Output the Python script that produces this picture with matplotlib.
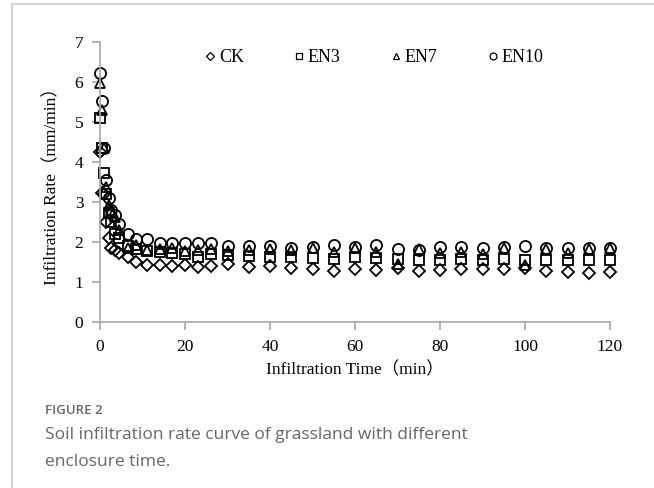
import matplotlib
matplotlib.use('Agg')
import matplotlib.pyplot as plt
from matplotlib.lines import Line2D
import numpy as np

plt.rcParams['font.family'] = ['Liberation Serif', 'Noto Sans CJK SC']

# infiltration time (min)
time = [0, 0.5, 1, 1.5, 2, 2.5, 3.5, 4.5, 6.5, 8.5, 11, 14, 17, 20, 23, 26, 30, 35, 40, 45,
        50, 55, 60, 65, 70, 75, 80, 85, 90, 95, 100, 105, 110, 115, 120]

# infiltration rate (mm/min)
ck = [4.25, 3.22, 3.20, 2.50, 2.09, 1.86, 1.80, 1.72, 1.62, 1.51, 1.43, 1.43, 1.40, 1.43, 1.38,
      1.40, 1.45, 1.37, 1.40, 1.34, 1.33, 1.28, 1.33, 1.31, 1.36, 1.27, 1.31, 1.33, 1.33, 1.33,
      1.35, 1.28, 1.24, 1.23, 1.24]
en3 = [5.10, 4.35, 3.73, 3.20, 2.72, 2.50, 2.20, 2.09, 1.90, 1.82, 1.78, 1.76, 1.73, 1.70, 1.62,
       1.69, 1.68, 1.65, 1.63, 1.62, 1.60, 1.58, 1.62, 1.60, 1.58, 1.56, 1.56, 1.58, 1.55, 1.58,
       1.55, 1.55, 1.55, 1.55, 1.56]
en7 = [5.97, 5.30, 4.35, 3.38, 2.93, 2.80, 2.63, 2.30, 1.84, 1.92, 1.80, 1.82, 1.85, 1.78, 1.80,
       1.83, 1.78, 1.80, 1.82, 1.80, 1.85, 1.75, 1.85, 1.76, 1.45, 1.83, 1.73, 1.74, 1.70, 1.85,
       1.42, 1.83, 1.72, 1.82, 1.84]
en10 = [6.22, 5.52, 4.35, 3.55, 3.10, 2.80, 2.68, 2.45, 2.20, 2.07, 2.07, 1.98, 1.98, 1.97, 1.98,
        1.98, 1.90, 1.89, 1.90, 1.86, 1.88, 1.92, 1.88, 1.92, 1.82, 1.80, 1.88, 1.88, 1.86, 1.88,
        1.90, 1.86, 1.85, 1.85, 1.85]

series = [("CK", ck, "D", 6), ("EN3", en3, "s", 7.5), ("EN7", en7, "^", 7.5), ("EN10", en10, "o", 8)]

fig = plt.figure(figsize=(6.54, 4.88), dpi=100)
ax = fig.add_axes([100 / 654, 1 - 322 / 488, 510 / 654, 280 / 488])

handles = []
for name, vals, mk, ms in series:
    ax.plot(time, vals, linestyle='none', marker=mk, ms=ms, mfc='none', mec='black',
            mew=1.3, clip_on=False)
    handles.append(Line2D([], [], linestyle='none', marker=mk, ms=ms * 0.62, mfc='none',
                          mec='black', mew=0.9, label=name))

ax.set_xlim(0, 120)
ax.set_ylim(0, 7)
ax.set_xticks(np.arange(0, 121, 20))
ax.set_yticks(np.arange(0, 8, 1))
for s in ['top', 'right']:
    ax.spines[s].set_visible(False)
for s in ['left', 'bottom']:
    ax.spines[s].set_color('#a6a6a6')
    ax.spines[s].set_linewidth(1.2)
ax.tick_params(direction='out', length=6, width=1.2, color='#a6a6a6', labelsize=12.5, pad=6)

ax.set_xlabel("Infiltration Time（min）", fontsize=12.5, labelpad=5)
ax.set_ylabel("Infiltration Rate（mm/min）", fontsize=12.5, labelpad=10)

ax.legend(handles=handles, loc='upper center', bbox_to_anchor=(0.538, 1.032), ncol=4,
          frameon=False, handlelength=0.5, handletextpad=0.25, columnspacing=2.8,
          fontsize=13)

# screenshot frame and caption
fig.add_artist(Line2D([12 / 654, 12 / 654], [0, 1 - 4 / 488], color='#d5d5d5', lw=1.5))
fig.add_artist(Line2D([12 / 654, 1], [1 - 4 / 488, 1 - 4 / 488], color='#d5d5d5', lw=1.5))
fig.text(45 / 654, 1 - 410 / 488, "FIGURE 2", family='Open Sans', fontsize=9.5,
         fontweight='semibold', color='#666666', va='center')
fig.text(45 / 654, 1 - 435 / 488, "Soil infiltration rate curve of grassland with different",
         family='Open Sans', fontsize=12.5, color='#666666', va='center')
fig.text(45 / 654, 1 - 462 / 488, "enclosure time.", family='Open Sans', fontsize=12.5,
         color='#666666', va='center')

fig.savefig("out.png", dpi=100)
